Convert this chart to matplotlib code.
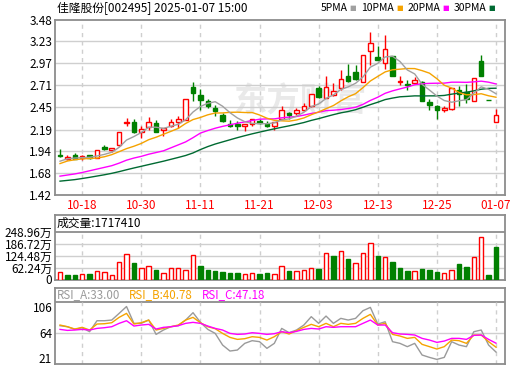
import numpy as np
import matplotlib
matplotlib.use('Agg')
import matplotlib.pyplot as plt
from matplotlib.transforms import ScaledTranslation

plt.rcParams['font.family'] = ['Noto Sans CJK SC', 'DejaVu Sans']
plt.rcParams['axes.unicode_minus'] = False

# ---------------- data ----------------
opens = [1.889, 1.838, 1.885, 1.858, 1.885, 1.854, 1.987, 1.955, 2.007, 2.270,
         2.285, 2.160, 2.222, 2.269, 2.183, 2.230, 2.277, 2.301, 2.693, 2.599,
         2.524, 2.446, 2.367, 2.261, 2.250, 2.238, 2.250, 2.289, 2.261, 2.238,
         2.316, 2.387, 2.387, 2.418, 2.465, 2.681, 2.564, 2.603, 2.681, 2.826,
         2.865, 2.748, 3.112, 3.046, 2.975, 3.061, 2.748, 2.728, 2.740, 2.752,
         2.512, 2.473, 2.426, 2.434, 2.661, 2.630, 2.524, 2.995, 2.536, 2.282]
highs = [1.956, 1.885, 1.916, 1.885, 1.893, 1.952, 2.003, 1.979, 2.163, 2.328,
         2.309, 2.230, 2.340, 2.297, 2.211, 2.309, 2.352, 2.552, 2.756, 2.669,
         2.552, 2.485, 2.387, 2.301, 2.289, 2.250, 2.309, 2.309, 2.289, 2.285,
         2.473, 2.395, 2.446, 2.505, 2.614, 2.701, 2.826, 2.740, 2.897, 2.967,
         2.955, 3.073, 3.336, 3.179, 3.309, 3.061, 2.826, 2.779, 2.810, 2.760,
         2.552, 2.485, 2.473, 2.681, 2.701, 2.732, 2.799, 3.073, 2.536, 2.431]
lows = [1.869, 1.830, 1.838, 1.830, 1.838, 1.850, 1.948, 1.932, 2.000, 2.230,
        2.152, 2.093, 2.183, 2.159, 2.112, 2.222, 2.203, 2.301, 2.524, 2.426,
        2.446, 2.348, 2.277, 2.222, 2.191, 2.171, 2.230, 2.250, 2.222, 2.191,
        2.309, 2.316, 2.367, 2.407, 2.458, 2.564, 2.556, 2.591, 2.661, 2.748,
        2.779, 2.748, 2.956, 3.007, 2.905, 2.826, 2.720, 2.654, 2.740, 2.524,
        2.418, 2.316, 2.395, 2.418, 2.473, 2.505, 2.524, 2.818, 2.536, 2.282]
closes = [1.880, 1.865, 1.846, 1.877, 1.854, 1.952, 1.963, 1.971, 2.163, 2.285,
          2.160, 2.199, 2.285, 2.163, 2.211, 2.285, 2.317, 2.552, 2.622, 2.536,
          2.473, 2.407, 2.289, 2.238, 2.230, 2.250, 2.309, 2.270, 2.238, 2.285,
          2.418, 2.367, 2.426, 2.473, 2.614, 2.575, 2.693, 2.642, 2.787, 2.767,
          2.787, 3.066, 3.210, 3.015, 3.140, 2.826, 2.767, 2.713, 2.779, 2.532,
          2.485, 2.418, 2.446, 2.681, 2.614, 2.552, 2.799, 2.818, 2.536, 2.356]

ma5 = [1.818, 1.846, 1.855, 1.860, 1.864, 1.879, 1.898, 1.923, 1.981, 2.067,
       2.108, 2.156, 2.218, 2.218, 2.204, 2.229, 2.252, 2.306, 2.397, 2.462,
       2.500, 2.518, 2.465, 2.389, 2.327, 2.283, 2.263, 2.259, 2.259, 2.270,
       2.304, 2.316, 2.347, 2.394, 2.460, 2.491, 2.556, 2.599, 2.662, 2.693,
       2.735, 2.810, 2.925, 2.970, 3.045, 3.053, 2.992, 2.892, 2.845, 2.723,
       2.655, 2.585, 2.532, 2.512, 2.529, 2.542, 2.618, 2.693, 2.664, 2.612]
ma10 = [1.790, 1.820, 1.835, 1.845, 1.850, 1.855, 1.870, 1.895, 1.930, 1.966,
        1.994, 2.027, 2.071, 2.100, 2.135, 2.169, 2.204, 2.262, 2.308, 2.333,
        2.364, 2.385, 2.386, 2.393, 2.395, 2.391, 2.391, 2.362, 2.324, 2.299,
        2.293, 2.289, 2.303, 2.327, 2.365, 2.398, 2.436, 2.473, 2.528, 2.576,
        2.613, 2.684, 2.762, 2.816, 2.869, 2.894, 2.901, 2.909, 2.908, 2.884,
        2.854, 2.789, 2.712, 2.679, 2.626, 2.599, 2.602, 2.612, 2.588, 2.571]
ma20 = [1.642, 1.655, 1.668, 1.685, 1.705, 1.725, 1.745, 1.765, 1.795, 1.830,
        1.855, 1.875, 1.900, 1.920, 1.940, 1.975, 2.010, 2.045, 2.095, 2.149,
        2.179, 2.206, 2.228, 2.246, 2.265, 2.280, 2.297, 2.312, 2.316, 2.316,
        2.329, 2.337, 2.344, 2.360, 2.380, 2.394, 2.413, 2.418, 2.426, 2.438,
        2.453, 2.487, 2.533, 2.571, 2.617, 2.646, 2.669, 2.691, 2.718, 2.730,
        2.734, 2.736, 2.737, 2.748, 2.748, 2.746, 2.752, 2.760, 2.748, 2.727]
ma30 = [1.583, 1.592, 1.601, 1.614, 1.628, 1.643, 1.658, 1.675, 1.695, 1.717,
        1.738, 1.758, 1.778, 1.798, 1.818, 1.840, 1.862, 1.885, 1.915, 1.955,
        1.990, 2.020, 2.045, 2.070, 2.095, 2.118, 2.140, 2.160, 2.180, 2.199,
        2.217, 2.234, 2.253, 2.273, 2.298, 2.319, 2.343, 2.366, 2.387, 2.403,
        2.424, 2.453, 2.484, 2.512, 2.543, 2.561, 2.576, 2.581, 2.587, 2.586,
        2.587, 2.587, 2.592, 2.607, 2.620, 2.630, 2.646, 2.665, 2.675, 2.677]

# volume in 万
volume = [41.5, 25.9, 25.9, 29.4, 31.1, 46.7, 41.5, 25.9, 93.4, 134.9,
          84.7, 62.2, 70.9, 51.9, 36.3, 60.5, 60.5, 51.9, 129.7, 72.6,
          51.9, 46.7, 41.5, 36.3, 36.3, 29.4, 34.6, 31.1, 36.3, 29.4,
          70.9, 46.7, 45.0, 51.9, 60.5, 57.0, 138.0, 124.5, 148.7, 108.9,
          88.2, 140.0, 191.9, 124.5, 117.6, 93.4, 62.2, 46.7, 45.0, 57.1,
          51.9, 41.5, 34.6, 50.1, 83.0, 67.4, 117.6, 221.3, 25.9, 171.741]

rsi_a = [75.2, 73.6, 69.3, 72.0, 65.6, 83.2, 83.2, 84.3, 95.0, 106.0,
         79.0, 79.0, 84.3, 61.3, 68.3, 73.6, 75.2, 84.3, 96.1, 80.6,
         69.3, 62.9, 44.2, 34.6, 36.2, 46.9, 51.2, 49.6, 38.9, 46.9,
         70.9, 64.0, 68.3, 76.3, 89.7, 79.0, 90.7, 79.0, 87.0, 84.3,
         87.0, 99.3, 104.6, 77.9, 81.6, 49.6, 46.9, 41.6, 46.9, 28.2,
         24.4, 21.2, 24.4, 49.6, 44.2, 41.6, 65.6, 68.3, 44.2, 33.00]
rsi_b = [76.3, 73.6, 69.9, 72.6, 68.3, 77.9, 78.4, 80.0, 88.6, 95.0,
         77.9, 80.0, 84.3, 68.3, 70.9, 73.6, 76.3, 84.3, 88.6, 80.0,
         73.6, 70.4, 62.9, 56.5, 53.3, 54.4, 57.6, 56.5, 52.2, 57.6,
         65.6, 61.9, 67.2, 72.6, 77.4, 73.6, 79.0, 73.6, 79.0, 77.4,
         79.0, 87.0, 93.4, 76.3, 79.0, 61.3, 58.7, 54.9, 56.5, 45.3,
         41.6, 37.8, 41.6, 52.2, 51.2, 46.9, 60.3, 60.3, 49.6, 40.78]
rsi_c = [69.3, 67.7, 68.3, 69.3, 68.3, 70.9, 72.0, 73.6, 79.0, 83.2,
         74.7, 76.3, 77.4, 69.9, 72.6, 73.6, 75.2, 79.0, 80.6, 79.0,
         74.7, 70.9, 68.3, 62.9, 61.3, 61.9, 64.0, 62.9, 61.3, 62.4,
         65.6, 64.0, 66.1, 69.3, 70.9, 69.9, 73.6, 72.6, 73.6, 73.6,
         73.6, 79.0, 84.3, 76.3, 76.3, 64.0, 61.9, 61.3, 60.3, 54.9,
         52.2, 48.5, 50.6, 54.9, 54.9, 53.3, 59.7, 60.3, 53.3, 47.18]

price_ticks = [3.48, 3.23, 2.97, 2.71, 2.45, 2.19, 1.94, 1.68, 1.42]
date_tick_idx = [3, 11, 19, 27, 35, 43, 51, 59]
date_tick_labels = ['10-18', '10-30', '11-11', '11-21', '12-03', '12-13', '12-25', '01-07']
vol_ticks = [0, 62.24, 124.48, 186.72, 248.96]
rsi_ticks = [21, 64, 106]
legend_names = ['5PMA', '10PMA', '20PMA', '30PMA']
title = '佳隆股份[002495] 2025-01-07 15:00'

# ---------------- style ----------------
RED = '#ff0000'
GREEN = '#008000'
FRAME = '#8c8c8c'
GRID = '#cfcfcf'
C5, C10, C20, C30 = '#a0a0a0', '#f5a300', '#ff00ff', '#006a32'

W, H = 520, 365
fig = plt.figure(figsize=(W / 100, H / 100), dpi=100)
fig.patch.set_facecolor('white')


def rect(l, t, r, b):
    return [l / W, 1 - b / H, (r - l) / W, (b - t) / H]


def frame(a):
    for s in a.spines.values():
        s.set_color(FRAME)
        s.set_linewidth(1.3)


o = np.array(opens); c = np.array(closes); h = np.array(highs); l = np.array(lows)
x = np.arange(len(c))
prev = np.r_[c[0], c[:-1]]
up = (c > o) | ((c == o) & (c >= prev))
xlim = (-0.68, 60.22)

# ---------------- main price panel ----------------
ax = fig.add_axes(rect(55, 20, 505, 195))
ax.set_xlim(*xlim)
ax.set_ylim(1.42, 3.48)
frame(ax)
for yv in price_ticks[1:-1]:
    ax.axhline(yv, color=GRID, lw=1, zorder=1)
ax.vlines(date_tick_idx, 1.42, 3.48, colors=GRID, lw=1, linestyles=(0, (3, 3)), zorder=1)
ax.text(0.545, 0.53, '东方财富', transform=ax.transAxes, fontsize=24, color='#e9e9e9',
        ha='center', va='center', fontweight='bold', zorder=0.5)

ax.vlines(x, l, h, colors=np.where(up, RED, GREEN), lw=1, zorder=2)
bb = np.minimum(o, c); bh = np.abs(c - o)
ax.bar(x[up], bh[up], bottom=bb[up], width=0.62, facecolor='white', edgecolor=RED, lw=1, zorder=3)
ax.bar(x[~up], bh[~up], bottom=bb[~up], width=0.62, facecolor=GREEN, edgecolor=GREEN, lw=1, zorder=3)

ax.plot(x, ma30, color=C30, lw=1, zorder=4)
ax.plot(x, ma20, color=C20, lw=1, zorder=4)
ax.plot(x, ma10, color=C10, lw=1, zorder=4)
ax.plot(x, ma5, color=C5, lw=1, zorder=4)

ax.set_yticks(price_ticks)
ax.set_yticklabels([f'{v:.2f}' for v in price_ticks])
ax.set_xticks(date_tick_idx)
ax.set_xticklabels(date_tick_labels)
ax.tick_params(axis='y', length=0, pad=2, labelsize=8.5, labelcolor='black')
ax.tick_params(axis='x', length=0, pad=3, labelsize=8.5, labelcolor=RED)

# title & legend
fig.text(57 / W, 1 - 8 / H, title, fontsize=8.5, va='center', ha='left')
for name, col, px_t, px_s in zip(legend_names, [C5, C10, C20, C30],
                                 [321, 361, 408, 454], [349, 396, 442, 488]):
    fig.text(px_t / W, 1 - 8 / H, name, fontsize=7.5, va='center', ha='left')
    fig.text(px_s / W, 1 - 8 / H, '■', fontsize=5, color=col, va='center', ha='left',
             family=['DejaVu Sans'])

# ---------------- volume panel ----------------
axv = fig.add_axes(rect(55, 215, 505, 279.5))
axv.set_xlim(*xlim)
vtop = 248.96 * 64.5 / 47.5
axv.set_ylim(0, vtop)
frame(axv)
for yv in vol_ticks[1:-1]:
    axv.axhline(yv, color=GRID, lw=1, zorder=1)
axv.axhline(vol_ticks[-1], color=FRAME, lw=1.3, zorder=1)
axv.vlines(date_tick_idx, 0, vol_ticks[-1], colors=GRID, lw=1, linestyles=(0, (3, 3)), zorder=1)
v = np.array(volume)
vup = np.r_[True, c[1:] >= c[:-1]]
axv.bar(x[vup], v[vup], width=0.6, facecolor='white', edgecolor=RED, lw=1, zorder=3)
axv.bar(x[~vup], v[~vup], width=0.6, facecolor=GREEN, edgecolor=GREEN, lw=1, zorder=3)
axv.set_xticks([])
axv.set_yticks(vol_ticks)
axv.set_yticklabels(['0'] + [f'{t:.2f}万' for t in vol_ticks[1:]])
axv.tick_params(axis='y', length=0, pad=2, labelsize=8.5)
fig.text(57 / W, 1 - 223.5 / H, f'成交量:{volume[-1] * 1e4:.0f}', fontsize=8.5, va='center', ha='left')

# ---------------- RSI panel ----------------
axr = fig.add_axes(rect(55, 288, 505, 364))
axr.set_xlim(*xlim)
rlo, rband = 13.8, 113.7
axr.set_ylim(rlo, 135.7)
frame(axr)
axr.axhline(64, color=GRID, lw=1, zorder=1)
axr.axhline(rband, color=FRAME, lw=1.3, zorder=1)
axr.vlines(date_tick_idx, rlo, rband, colors=GRID, lw=1, linestyles=(0, (3, 3)), zorder=1)
axr.plot(x, rsi_a, color='#9a9a9a', lw=1, zorder=3)
axr.plot(x, rsi_b, color=C10, lw=1, zorder=3)
axr.plot(x, rsi_c, color=C20, lw=1, zorder=3)
axr.set_xticks([])
axr.set_yticks(rsi_ticks)
axr.set_yticklabels([str(t) for t in rsi_ticks])
axr.tick_params(axis='y', length=0, pad=2, labelsize=8.5)
lab0 = axr.get_yticklabels()[0]
lab0.set_transform(lab0.get_transform() + ScaledTranslation(0, 2 / 100, fig.dpi_scale_trans))
for lab, vals, col, px in [('RSI_A', rsi_a, '#9a9a9a', 57), ('RSI_B', rsi_b, C10, 129),
                           ('RSI_C', rsi_c, C20, 202)]:
    fig.text(px / W, 1 - 295 / H, f'{lab}:{vals[-1]:.2f}', fontsize=8.3, color=col,
             va='center', ha='left')

fig.savefig('out.png', dpi=100, facecolor='white')
